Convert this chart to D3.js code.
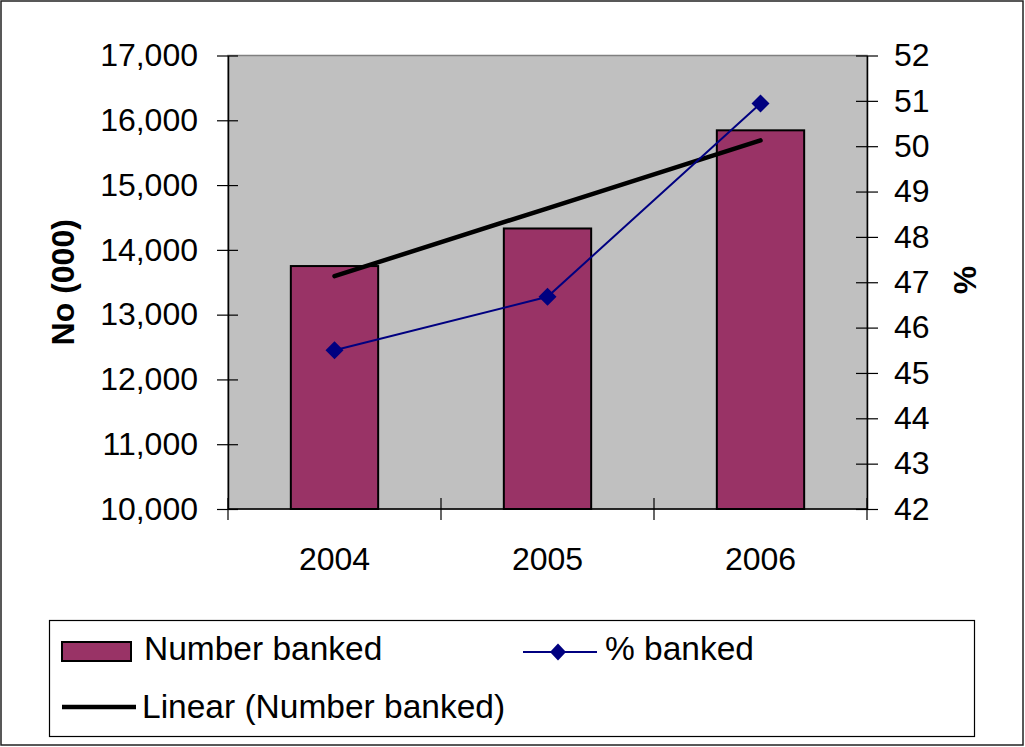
<!DOCTYPE html>
<html>
<head>
<meta charset="utf-8">
<script src="https://cdn.jsdelivr.net/npm/d3@7"></script>
<style>
  html, body { margin: 0; padding: 0; background: #fff; }
  svg { display: block; font-family: "Liberation Sans", Arial, sans-serif; }
</style>
</head>
<body>
<svg id="chart" width="1025" height="747"></svg>
<script>
// ---- data ----
const categories = ["2004", "2005", "2006"];
const numberBanked = [13750, 14330, 15845];   // No (000), left axis
const pctBanked = [45.5, 46.68, 50.94];       // %, right axis
const leftTicks = [10000, 11000, 12000, 13000, 14000, 15000, 16000, 17000];
const rightTicks = [42, 43, 44, 45, 46, 47, 48, 49, 50, 51, 52];
const seriesNames = ["Number banked", "% banked", "Linear (Number banked)"];

// ---- layout ----
const svg = d3.select("#chart");
const W = 1025, H = 747;
const plot = { left: 228, right: 867, top: 55.5, bottom: 509 };

// outer border
svg.append("rect").attr("x", 1).attr("y", 1).attr("width", W - 3).attr("height", H - 3)
  .attr("fill", "#fff").attr("stroke", "#222").attr("stroke-width", 1.5);

const x = d3.scaleBand().domain(categories).range([plot.left, plot.right]).padding(0);
const yL = d3.scaleLinear().domain([10000, 17000]).range([plot.bottom, plot.top]);
const yR = d3.scaleLinear().domain([42, 52]).range([plot.bottom, plot.top]);

// plot area
svg.append("rect").attr("x", plot.left).attr("y", plot.top)
  .attr("width", plot.right - plot.left).attr("height", plot.bottom - plot.top)
  .attr("fill", "#C0C0C0").attr("stroke", "#808080").attr("stroke-width", 1.5);

// bars
const barW = x.bandwidth() * 0.41;
svg.append("g").selectAll("rect").data(numberBanked).join("rect")
  .attr("x", (d, i) => x(categories[i]) + x.bandwidth() / 2 - barW / 2)
  .attr("y", d => yL(d))
  .attr("width", barW)
  .attr("height", d => yL(10000) - yL(d))
  .attr("fill", "#993366").attr("stroke", "#000").attr("stroke-width", 2);

// linear trend (least squares on number banked)
const n = numberBanked.length;
const xs = d3.range(n);
const mx = d3.mean(xs), my = d3.mean(numberBanked);
const slope = d3.sum(xs, (v, i) => (v - mx) * (numberBanked[i] - my)) / d3.sum(xs, v => (v - mx) ** 2);
const icpt = my - slope * mx;
const cx = c => x(c) + x.bandwidth() / 2;
svg.append("path")
  .datum(xs)
  .attr("d", d3.line().x(i => cx(categories[i])).y(i => yL(icpt + slope * i)))
  .attr("fill", "none").attr("stroke", "#000").attr("stroke-width", 4.5).attr("stroke-linecap", "round");

// % line
svg.append("path").datum(pctBanked)
  .attr("d", d3.line().x((d, i) => cx(categories[i])).y(d => yR(d)))
  .attr("fill", "none").attr("stroke", "#000080").attr("stroke-width", 2);
const diamond = d3.symbol().type(d3.symbolDiamond2 || d3.symbolDiamond);
svg.append("g").selectAll("path").data(pctBanked).join("path")
  .attr("transform", (d, i) => `translate(${cx(categories[i])},${yR(d)})`)
  .attr("d", "M0,-9L9,0L0,9L-9,0Z")
  .attr("fill", "#000080");

// axes
const tickFont = 32;
function styleAxis(g, side) {
  g.select(".domain").attr("stroke", "#000").attr("stroke-width", 1.5);
  g.selectAll(".tick line").attr("stroke", "#000").attr("stroke-width", 1.2);
  g.selectAll(".tick text").attr("fill", "#000").attr("font-size", tickFont)
    .attr("font-family", "'Liberation Sans', Arial, sans-serif");
}
const gL = svg.append("g").attr("transform", `translate(${plot.left},0)`)
  .call(d3.axisLeft(yL).tickValues(leftTicks).tickFormat(d3.format(",")).tickSize(11).tickSizeOuter(0).tickPadding(19));
styleAxis(gL);
gL.selectAll(".tick line").attr("x1", 10).attr("x2", -11);

const gR = svg.append("g").attr("transform", `translate(${plot.right},0)`)
  .call(d3.axisRight(yR).tickValues(rightTicks).tickSize(11).tickSizeOuter(0).tickPadding(16));
styleAxis(gR);
gR.selectAll(".tick line").attr("x1", -11).attr("x2", 11);

const gB = svg.append("g").attr("transform", `translate(0,${plot.bottom})`)
  .call(d3.axisBottom(x).tickSize(0).tickPadding(38));
styleAxis(gB);
gB.select(".domain").attr("d", `M${plot.left},0H${plot.right}`);
// category boundary ticks (crossing)
const bounds = categories.map(c => x(c)).concat([plot.right]);
gB.append("g").selectAll("line").data(bounds).join("line")
  .attr("x1", d => d).attr("x2", d => d).attr("y1", -11).attr("y2", 11)
  .attr("stroke", "#000").attr("stroke-width", 1.2);

// axis titles
svg.append("text").attr("transform", `translate(74,${(plot.top + plot.bottom) / 2 + 0}) rotate(-90)`)
  .attr("text-anchor", "middle").attr("font-size", 32).attr("font-weight", "bold").text("No (000)");
svg.append("text").attr("transform", `translate(976,280) rotate(-90)`)
  .attr("text-anchor", "middle").attr("font-size", 32).attr("font-weight", "bold").text("%");

// legend
const lg = svg.append("g");
lg.append("rect").attr("x", 49.5).attr("y", 620.5).attr("width", 925).attr("height", 116)
  .attr("fill", "#fff").attr("stroke", "#000").attr("stroke-width", 1.2);
const legFont = 33.5;
lg.append("rect").attr("x", 62).attr("y", 642).attr("width", 69).attr("height", 19)
  .attr("fill", "#993366").attr("stroke", "#000").attr("stroke-width", 2);
lg.append("text").attr("x", 144).attr("y", 660).attr("font-size", legFont).text(seriesNames[0]);
lg.append("line").attr("x1", 523).attr("x2", 597).attr("y1", 652).attr("y2", 652)
  .attr("stroke", "#000080").attr("stroke-width", 2);
lg.append("path").attr("transform", "translate(558,652)").attr("d", "M0,-8.5L8,0L0,8.5L-8,0Z").attr("fill", "#000080");
lg.append("text").attr("x", 605).attr("y", 660).attr("font-size", legFont).text(seriesNames[1]);
lg.append("line").attr("x1", 62).attr("x2", 136).attr("y1", 707).attr("y2", 707)
  .attr("stroke", "#000").attr("stroke-width", 4.5);
lg.append("text").attr("x", 142).attr("y", 718).attr("font-size", legFont).text(seriesNames[2]);
</script>
</body>
</html>
